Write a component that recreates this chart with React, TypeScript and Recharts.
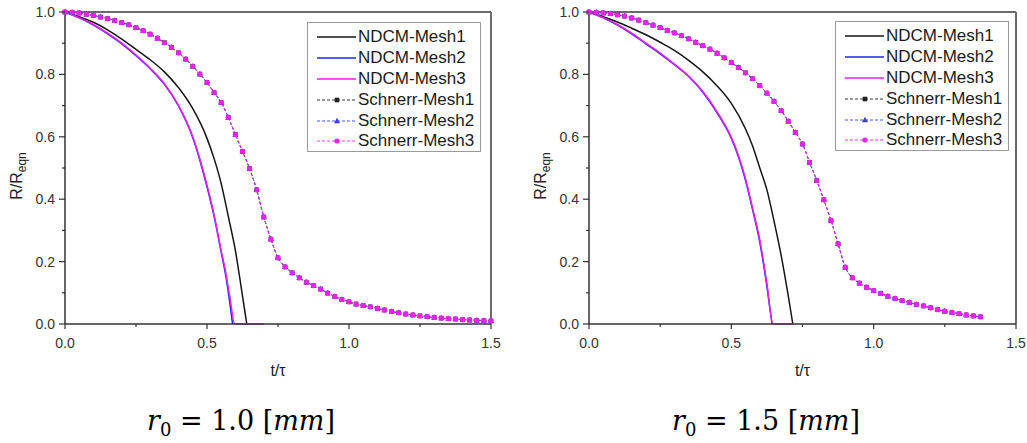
import React from "react";
import { LineChart, Line, XAxis, YAxis, ReferenceLine, Label } from "recharts";

// ---- r0 = 1.0 mm ----
const leftNdcm1T = [0, 0.05, 0.1, 0.15, 0.2, 0.25, 0.3, 0.35, 0.4, 0.45, 0.5, 0.525, 0.55, 0.575, 0.6, 0.62, 0.64];
const leftNdcm1R = [1, 0.985, 0.967, 0.943, 0.913, 0.88, 0.847, 0.808, 0.757, 0.69, 0.595, 0.53, 0.45, 0.345, 0.235, 0.12, 0];
const leftNdcm2T = [0, 0.05, 0.1, 0.15, 0.2, 0.25, 0.3, 0.35, 0.4, 0.45, 0.5, 0.525, 0.55, 0.565, 0.58, 0.59];
const leftNdcm2R = [1, 0.981, 0.958, 0.93, 0.898, 0.86, 0.818, 0.768, 0.698, 0.597, 0.44, 0.345, 0.23, 0.16, 0.07, 0];
const leftNdcm3T = [0, 0.05, 0.1, 0.15, 0.2, 0.25, 0.3, 0.35, 0.4, 0.45, 0.5, 0.525, 0.55, 0.565, 0.58, 0.598, 0.65, 0.7];
const leftNdcm3R = [1, 0.982, 0.96, 0.932, 0.9, 0.862, 0.82, 0.77, 0.7, 0.6, 0.445, 0.35, 0.235, 0.17, 0.09, 0, 0, 0];
// the three Schnerr meshes lie on top of each other
const leftSchnerrT = [
  0, 0.025, 0.05, 0.075, 0.1, 0.125, 0.15, 0.175, 0.2, 0.225, 0.25, 0.275, 0.3, 0.325, 0.35, 0.375,
  0.4, 0.425, 0.45, 0.475, 0.5, 0.525, 0.55, 0.575, 0.6, 0.625, 0.65, 0.675, 0.7, 0.725, 0.75, 0.775,
  0.8, 0.825, 0.85, 0.875, 0.9, 0.925, 0.95, 0.975, 1.0, 1.025, 1.05, 1.075, 1.1, 1.125, 1.15, 1.175,
  1.2, 1.225, 1.25, 1.275, 1.3, 1.325, 1.35, 1.375, 1.4, 1.425, 1.45, 1.475, 1.5,
];
const leftSchnerrR = [
  1.0, 0.999, 0.997, 0.993, 0.989, 0.984, 0.979, 0.973, 0.966, 0.959, 0.95, 0.94, 0.929, 0.916, 0.902, 0.887,
  0.869, 0.849, 0.826, 0.801, 0.774, 0.742, 0.71, 0.662, 0.607, 0.553, 0.498, 0.43, 0.343, 0.272, 0.212, 0.183,
  0.164, 0.148, 0.134, 0.123, 0.112, 0.099, 0.088, 0.079, 0.071, 0.064, 0.059, 0.055, 0.05, 0.045, 0.04, 0.036,
  0.032, 0.029, 0.026, 0.024, 0.021, 0.019, 0.017, 0.016, 0.014, 0.013, 0.012, 0.011, 0.01,
];

// ---- r0 = 1.5 mm ----
const rightNdcm1T = [0, 0.05, 0.1, 0.15, 0.2, 0.25, 0.3, 0.35, 0.4, 0.45, 0.5, 0.55, 0.575, 0.6, 0.625, 0.65, 0.675, 0.7, 0.716];
const rightNdcm1R = [1, 0.985, 0.968, 0.948, 0.927, 0.903, 0.877, 0.845, 0.808, 0.763, 0.707, 0.625, 0.57, 0.5, 0.43, 0.33, 0.22, 0.09, 0];
const rightNdcm2T = [0, 0.05, 0.1, 0.15, 0.2, 0.25, 0.3, 0.35, 0.4, 0.45, 0.5, 0.525, 0.55, 0.575, 0.6, 0.625, 0.643];
const rightNdcm2R = [1, 0.981, 0.958, 0.93, 0.898, 0.866, 0.831, 0.793, 0.743, 0.677, 0.595, 0.536, 0.46, 0.365, 0.262, 0.12, 0];
const rightNdcm3T = [0, 0.05, 0.1, 0.15, 0.2, 0.25, 0.3, 0.35, 0.4, 0.45, 0.5, 0.525, 0.55, 0.575, 0.6, 0.625, 0.646, 0.68, 0.716];
const rightNdcm3R = [1, 0.982, 0.96, 0.932, 0.9, 0.868, 0.833, 0.795, 0.745, 0.68, 0.598, 0.54, 0.465, 0.37, 0.27, 0.13, 0, 0, 0];
const rightSchnerrT = [
  0, 0.025, 0.05, 0.075, 0.1, 0.125, 0.15, 0.175, 0.2, 0.225, 0.25, 0.275, 0.3, 0.325, 0.35, 0.375,
  0.4, 0.425, 0.45, 0.475, 0.5, 0.525, 0.55, 0.575, 0.6, 0.625, 0.65, 0.675, 0.7, 0.725, 0.75, 0.775,
  0.8, 0.825, 0.85, 0.875, 0.9, 0.925, 0.95, 0.975, 1.0, 1.025, 1.05, 1.075, 1.1, 1.125, 1.15, 1.175,
  1.2, 1.225, 1.25, 1.275, 1.3, 1.325, 1.35, 1.375,
];
const rightSchnerrR = [
  1.0, 0.999, 0.997, 0.995, 0.991, 0.987, 0.981, 0.974, 0.966, 0.958, 0.95, 0.941, 0.933, 0.924, 0.914, 0.903,
  0.892, 0.881, 0.868, 0.853, 0.838, 0.822, 0.805, 0.786, 0.764, 0.74, 0.714, 0.684, 0.65, 0.614, 0.577, 0.518,
  0.46, 0.398, 0.332, 0.257, 0.182, 0.148, 0.131, 0.118, 0.107, 0.098, 0.089, 0.082, 0.075, 0.069, 0.063, 0.058,
  0.052, 0.046, 0.041, 0.037, 0.033, 0.029, 0.026, 0.023,
];

const xTicks = [0, 0.25, 0.5, 0.75, 1.0, 1.25, 1.5];
const yTicks = [0, 0.1, 0.2, 0.3, 0.4, 0.5, 0.6, 0.7, 0.8, 0.9, 1.0];

const seriesNames = ["NDCM-Mesh1", "NDCM-Mesh2", "NDCM-Mesh3", "Schnerr-Mesh1", "Schnerr-Mesh2", "Schnerr-Mesh3"];
const seriesColors = ["#151515", "#2323f5", "#e820e8", "#222222", "#3b3bf0", "#f020f0"];
const markers = [null, null, null, "square", "triangle", "circle"] as const;

const SANS = "'Liberation Sans', Arial, sans-serif";

type Pt = { t: number; r: number };
const zip = (t: number[], r: number[]): Pt[] => t.map((v, i) => ({ t: v, r: r[i] }));

function makeDot(marker: string, color: string) {
  return (props: any) => {
    const { cx, cy, index } = props;
    if (cx == null || cy == null) return <g key={index} />;
    if (marker === "square")
      return <rect key={index} x={cx - 2.3} y={cy - 2.3} width={4.6} height={4.6} fill={color} />;
    if (marker === "triangle")
      return <path key={index} d={`M${cx},${cy - 3.2}L${cx + 3},${cy + 2.2}L${cx - 3},${cy + 2.2}Z`} fill={color} />;
    return <circle key={index} cx={cx} cy={cy} r={2.6} fill={color} />;
  };
}

function XTick({ x, y, payload }: any) {
  const v = payload.value as number;
  const major = Math.round(v * 4) % 2 === 0;
  return (
    <g>
      <line x1={x} x2={x} y1={y} y2={y + (major ? 5 : 3)} stroke="#333" strokeWidth={1.2} />
      {major && (
        <text x={x} y={y + 19} textAnchor="middle" dominantBaseline="central" fontSize={14} fill="#333" fontFamily={SANS}>
          {v.toFixed(1)}
        </text>
      )}
    </g>
  );
}

function YTick({ x, y, payload }: any) {
  const v = payload.value as number;
  const major = Math.round(v * 10) % 2 === 0;
  return (
    <g>
      <line x1={x - (major ? 6 : 3)} x2={x} y1={y} y2={y} stroke="#333" strokeWidth={1.2} />
      {major && (
        <text x={x - 10} y={y} textAnchor="end" dominantBaseline="central" fontSize={14} fill="#333" fontFamily={SANS}>
          {v.toFixed(1)}
        </text>
      )}
    </g>
  );
}

function XLabel({ viewBox }: any) {
  const { x, y, width } = viewBox;
  return (
    <text x={x + width / 2} y={y + 52} textAnchor="middle" fontSize={16} fill="#222" fontFamily={SANS}>
      t/τ
    </text>
  );
}

function YLabel({ viewBox }: any) {
  const cx = viewBox.x + 7;
  const cy = 176;
  return (
    <text x={cx} y={cy} transform={`rotate(-90, ${cx}, ${cy})`} textAnchor="middle" fontSize={16} fill="#222" fontFamily={SANS}>
      <tspan>R/R</tspan>
      <tspan dy={4} fontSize={12}>eqn</tspan>
    </text>
  );
}

function Panel({ left, width, right, series }: { left: number; width: number; right: number; series: Pt[][] }) {
  return (
    <div style={{ position: "absolute", left, top: 0 }}>
      <LineChart width={width} height={380} margin={{ top: 12, right, left: 15, bottom: 6 }}>
        <XAxis
          type="number"
          dataKey="t"
          domain={[0, 1.5]}
          ticks={xTicks}
          interval={0}
          height={50}
          tickSize={0}
          tickMargin={0}
          tickLine={false}
          tick={(p: any) => <XTick {...p} />}
          axisLine={{ stroke: "#333", strokeWidth: 1.5 }}
        >
          <Label content={(p: any) => <XLabel {...p} />} />
        </XAxis>
        <YAxis
          type="number"
          domain={[0, 1]}
          ticks={yTicks}
          interval={0}
          width={50}
          tickSize={0}
          tickMargin={0}
          tickLine={false}
          tick={(p: any) => <YTick {...p} />}
          axisLine={{ stroke: "#333", strokeWidth: 1.5 }}
        >
          <Label content={(p: any) => <YLabel {...p} />} />
        </YAxis>
        <ReferenceLine y={1} stroke="#6a6a6a" strokeWidth={2} />
        <ReferenceLine x={1.5} stroke="#6a6a6a" strokeWidth={2} />
        {series.map((data, i) => {
          const m = markers[i];
          return (
            <Line
              key={seriesNames[i]}
              name={seriesNames[i]}
              data={data}
              dataKey="r"
              type="monotone"
              stroke={seriesColors[i]}
              strokeWidth={m ? 0.8 : 1.5}
              strokeDasharray={m ? "3 2" : undefined}
              dot={m ? makeDot(m, seriesColors[i]) : false}
              activeDot={false}
              isAnimationActive={false}
            />
          );
        })}
      </LineChart>
    </div>
  );
}

function LegendBox({ left, top }: { left: number; top: number }) {
  return (
    <div
      style={{
        position: "absolute",
        left,
        top,
        width: 174,
        height: 130,
        boxSizing: "border-box",
        border: "1px solid #9a9a9a",
        background: "#fff",
        paddingTop: 4,
      }}
    >
      {seriesNames.map((name, i) => {
        const m = markers[i];
        const c = seriesColors[i];
        return (
          <div key={name} style={{ display: "flex", alignItems: "center", height: 20.8 }}>
            <svg width={50} height={20} style={{ flex: "none" }}>
              <line x1={9} x2={48} y1={10} y2={10} stroke={c} strokeWidth={m ? 0.9 : 1.5} strokeDasharray={m ? "3 2" : undefined} />
              {m === "square" && <rect x={26.7} y={7.7} width={4.6} height={4.6} fill={c} />}
              {m === "triangle" && <path d="M29,6.8L32,12.2L26,12.2Z" fill={c} />}
              {m === "circle" && <circle cx={29} cy={10} r={2.6} fill={c} />}
            </svg>
            <span style={{ fontFamily: SANS, fontSize: 17, color: "#1a1a1a", lineHeight: "20px", whiteSpace: "nowrap" }}>{name}</span>
          </div>
        );
      })}
    </div>
  );
}

function Caption({ cx, value }: { cx: number; value: string }) {
  return (
    <text x={cx} y={430} textAnchor="middle" fontFamily="'DejaVu Serif', serif" fontSize={27} fill="#000" style={{ whiteSpace: "pre" }}>
      <tspan fontStyle="italic">r</tspan>
      <tspan dy={6} fontSize={18}>0</tspan>
      <tspan dy={-6}>{` = ${value} [`}</tspan>
      <tspan fontStyle="italic">mm</tspan>
      <tspan>]</tspan>
    </text>
  );
}

export default function App() {
  const leftSeries = [
    zip(leftNdcm1T, leftNdcm1R),
    zip(leftNdcm2T, leftNdcm2R),
    zip(leftNdcm3T, leftNdcm3R),
    zip(leftSchnerrT, leftSchnerrR),
    zip(leftSchnerrT, leftSchnerrR),
    zip(leftSchnerrT, leftSchnerrR),
  ];
  const rightSeries = [
    zip(rightNdcm1T, rightNdcm1R),
    zip(rightNdcm2T, rightNdcm2R),
    zip(rightNdcm3T, rightNdcm3R),
    zip(rightSchnerrT, rightSchnerrR),
    zip(rightSchnerrT, rightSchnerrR),
    zip(rightSchnerrT, rightSchnerrR),
  ];
  return (
    <div style={{ position: "absolute", left: 0, top: 0, width: 1027, height: 443, background: "#fff", overflow: "hidden" }}>
      <Panel left={0} width={520} right={29} series={leftSeries} />
      <Panel left={524} width={502} right={10} series={rightSeries} />
      <LegendBox left={307} top={22} />
      <LegendBox left={835} top={21} />
      <svg width={1027} height={443} style={{ position: "absolute", left: 0, top: 0, pointerEvents: "none" }}>
        <Caption cx={241} value="1.0" />
        <Caption cx={766} value="1.5" />
      </svg>
    </div>
  );
}
